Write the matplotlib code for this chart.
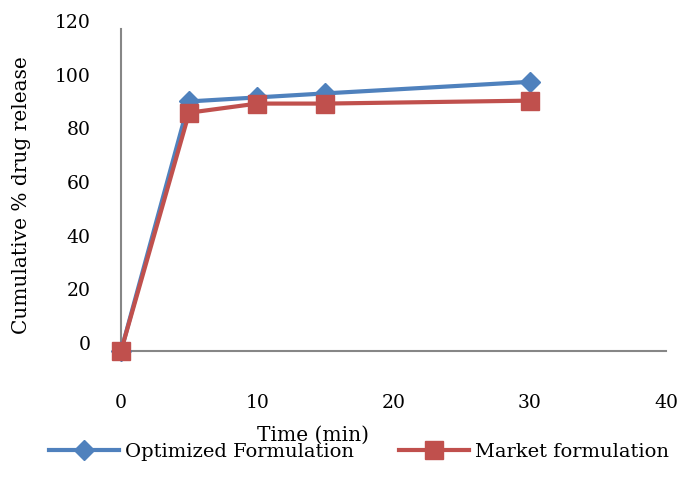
import matplotlib
matplotlib.use("Agg")
import matplotlib.pyplot as plt
from matplotlib.transforms import ScaledTranslation

# dissolution profile, % released vs time
time_min = [0, 5, 10, 15, 30]
optimized = [0, 93, 94.5, 96, 100.3]
market = [0, 88.8, 92.2, 92.2, 93.3]

BLUE = "#4F81BD"
RED = "#C0504D"
AXIS = "#868686"

plt.rcParams["font.family"] = "DejaVu Serif"
FS = 13.5

fig = plt.figure(figsize=(6.81, 4.92), dpi=100)
ax = fig.add_axes([0.1777, 0.2866, 0.8003, 0.6545])

ax.plot(time_min, optimized, color=BLUE, lw=3, marker="D", ms=10.5,
        label="Optimized Formulation", zorder=3, clip_on=False)
ax.plot(time_min, market, color=RED, lw=3, marker="s", ms=13,
        label="Market formulation", zorder=4, clip_on=False)

ax.set_xlim(0, 40)
ax.set_ylim(0, 120)
ax.set_xticks([0, 10, 20, 30, 40])
ax.set_yticks(range(0, 121, 20))
ax.tick_params(length=0, labelsize=FS)
ax.tick_params(axis="x", pad=31)
ax.tick_params(axis="y", pad=22)

# value labels sit a little above their gridline
shift = ScaledTranslation(0, 0.08, fig.dpi_scale_trans)
for lab in ax.get_yticklabels():
    lab.set_transform(lab.get_transform() + shift)

for s in ("top", "right"):
    ax.spines[s].set_visible(False)
for s in ("left", "bottom"):
    ax.spines[s].set_color(AXIS)
    ax.spines[s].set_linewidth(1.5)
    ax.spines[s].set_zorder(1)

ax.set_xlabel("Time (min)", fontsize=14.5, va="center")
ax.xaxis.set_label_coords(0.352, -0.261)
ax.set_ylabel("Cumulative % drug release", fontsize=14.5, va="center")
ax.yaxis.set_label_coords(-0.182, 0.484)

fig.legend(loc="center", bbox_to_anchor=(0.527, 0.081), ncol=2, frameon=False,
           fontsize=14, handlelength=3.6, handletextpad=0.3, columnspacing=2.3)

fig.savefig("out.png", dpi=100)
